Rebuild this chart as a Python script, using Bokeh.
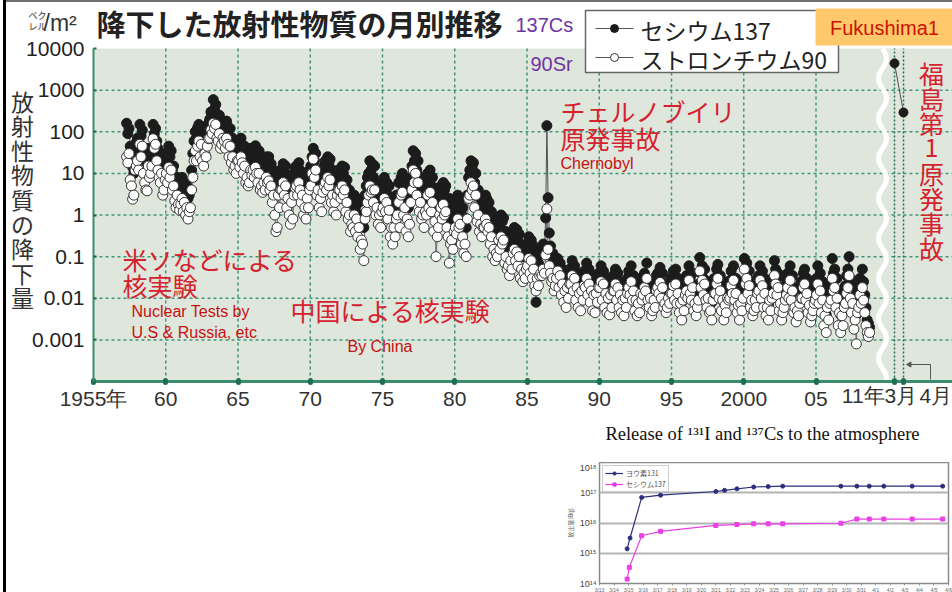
import math
from bokeh.plotting import figure
from bokeh.models import (FixedTicker, Label, Legend, LegendItem, Range1d,
                          Div, Spacer, ColumnDataSource, BoxAnnotation)
from bokeh.layouts import row, column
from bokeh.embed import file_html
from bokeh.resources import INLINE

# ---------------- data (Bq/m2, monthly, from April 1957) ----------------
START_YEAR, START_MONTH = 1957, 4

cs_1957_1966 = [
    160, 90, 120, 45, 30, 14, 10, 40, 55,
    70, 45, 150, 80, 110, 30, 20, 11, 8, 40, 25, 35,
    40, 150, 90, 120, 60, 40, 25, 15, 30, 8, 12, 20,
    30, 20, 45, 25, 35, 12, 15, 6, 4, 8, 5, 3.8,
    5, 8, 4, 6, 3, 5, 2.5, 3, 4, 12, 30, 60,
    100, 70, 125, 150, 90, 130, 60, 45, 90, 70, 120, 160,
    200, 300, 250, 590, 350, 450, 200, 150, 250, 100, 130, 180,
    150, 100, 180, 130, 80, 120, 50, 70, 35, 45, 30, 60,
    60, 40, 70, 50, 30, 45, 20, 25, 15, 20, 40, 30,
    40, 25, 46, 30, 20, 35, 12, 15, 11, 20, 14, 25,
]
sr_1957_1966 = [
    25, 18, 30, 7, 5, 2.4, 3, 12, 15,
    20, 12, 50, 25, 45, 10, 6, 4, 3.8, 15, 8, 10,
    15, 68, 40, 50, 20, 12, 8, 6, 10, 3, 4, 7,
    10, 6, 14, 8, 12, 4, 5, 2.2, 1.5, 3, 1.8, 1.3,
    1.8, 2.5, 1.2, 2, 1, 1.5, 0.8, 1.2, 1.5, 4, 8, 20,
    35, 20, 45, 60, 25, 50, 20, 15, 30, 25, 45, 68,
    70, 110, 90, 160, 120, 150, 70, 60, 90, 40, 50, 70,
    60, 40, 70, 50, 25, 45, 18, 25, 12, 15, 10, 20,
    20, 14, 25, 18, 10, 15, 6, 8, 5, 6, 12, 9,
    12, 8, 14, 10, 6, 10, 4, 5, 3.5, 6, 4, 8,
]
cs_1967_1976 = [
    20, 25, 15, 17, 8, 12, 5.5, 6, 4, 10, 8, 12,
    12, 17, 10, 15, 6, 9, 5, 4, 7, 3, 10, 14,
    15, 10, 18, 12, 7, 10, 4, 6, 3.5, 8, 6, 12,
    15, 25, 40, 20, 30, 10, 12, 6, 8, 5, 12, 15,
    20, 15, 25, 18, 22, 8, 12, 5, 7, 4, 10, 12,
    12, 8, 15, 10, 14, 5, 7, 3, 4, 2, 3, 2.5,
    3, 1.5, 2.5, 1, 2, 0.6, 1, 0.7, 0.5, 3, 5, 8,
    10, 20, 12, 17, 8, 15, 4, 6, 3, 4, 2.5, 5,
    5, 8, 4, 6, 3, 5, 1.5, 2, 1, 2, 1.2, 3,
    3, 6, 2, 8, 10, 4, 6, 2, 3, 1.5, 3, 8,
]
sr_1967_1976 = [
    6, 6.6, 4, 5, 2, 3, 1, 0.4, 0.5, 3, 1.5, 4,
    4, 6, 3, 5, 1.5, 2.5, 1, 0.6, 2, 0.8, 3, 4.5,
    5, 3, 6, 4, 2, 3, 1, 1.5, 0.8, 2.5, 1.5, 4,
    5, 10, 22, 8, 12, 3, 4, 1.5, 2.5, 1.2, 3.5, 5,
    6, 4, 8, 5, 7, 2, 3, 1.2, 2, 1, 3, 4,
    4, 2.5, 5, 3, 4, 1.2, 2, 0.8, 1, 0.4, 0.6, 0.5,
    1, 0.4, 0.8, 0.3, 0.5, 0.15, 0.25, 0.2, 0.08, 0.8, 1.2, 2,
    3, 5, 3.5, 4, 2, 4, 1, 1.5, 0.6, 1, 0.5, 1.2,
    1.5, 2.5, 1.2, 2, 0.8, 1.3, 0.3, 0.5, 0.2, 0.5, 0.3, 0.8,
    1, 2, 0.5, 3, 3.5, 1, 1.5, 0.4, 0.8, 0.3, 0.6, 2,
]
cs_1977_1986 = [
    15, 35, 20, 30, 12, 20, 5, 8, 3, 4, 2.5, 5,
    4, 10, 6, 12, 5, 8, 2, 3, 1.2, 1.5, 2, 4,
    5, 3, 6, 4, 5, 2, 1.5, 2.5, 0.8, 1, 0.7, 1.5,
    2, 1.5, 3, 2, 2.5, 1, 1.5, 0.6, 0.8, 0.5, 3, 8,
    12, 20, 15, 18, 6, 10, 3, 4, 1.5, 2.5, 1.2, 2,
    2, 3, 2.5, 1.5, 2, 0.8, 1.2, 0.4, 0.6, 0.3, 0.5, 0.35,
    0.9, 0.6, 1, 0.7, 0.85, 0.3, 0.4, 0.2, 0.25, 0.15, 0.3, 0.2,
    0.4, 0.5, 0.3, 0.45, 0.25, 0.35, 0.12, 0.18, 0.1, 0.15, 0.12, 0.2,
    0.2, 0.3, 0.15, 0.25, 0.12, 0.18, 0.06, 0.008, 0.1, 0.07, 0.12, 0.15,
    0.12, 0.2, 0.15, 0.85, 140, 2.6, 0.37, 0.18, 0.1, 0.12, 0.07, 0.09,
]
sr_1977_1986 = [
    4, 12, 6, 10, 3, 6, 1.2, 2, 0.8, 1, 0.5, 1.2,
    1, 3, 1.5, 3.5, 1.2, 2, 0.4, 0.7, 0.1, 0.3, 0.5, 1,
    1.5, 0.8, 1.8, 1, 1.2, 0.5, 0.3, 0.07, 0.2, 0.25, 0.15, 0.4,
    0.5, 0.35, 0.8, 0.5, 0.6, 0.2, 0.3, 0.12, 0.2, 0.1, 0.8, 2.5,
    3, 6, 4, 5, 1.5, 3, 0.7, 1, 0.4, 0.6, 0.3, 0.5,
    0.5, 0.8, 0.6, 0.4, 0.5, 0.2, 0.3, 0.1, 0.15, 0.08, 0.12, 0.1,
    0.25, 0.15, 0.3, 0.2, 0.25, 0.07, 0.1, 0.05, 0.06, 0.035, 0.08, 0.05,
    0.12, 0.15, 0.08, 0.13, 0.06, 0.1, 0.03, 0.05, 0.025, 0.04, 0.03, 0.05,
    0.06, 0.09, 0.04, 0.08, 0.03, 0.05, 0.02, 0.015, 0.03, 0.02, 0.035, 0.04,
    0.035, 0.05, 0.04, 0.11, 1.4, 0.15, 0.06, 0.04, 0.025, 0.03, 0.015, 0.02,
]
cs_1987_1997 = [
    0.06, 0.09, 0.04, 0.07, 0.03, 0.05, 0.02, 0.035, 0.015, 0.04, 0.025, 0.05,
    0.05, 0.08, 0.03, 0.06, 0.02, 0.04, 0.015, 0.03, 0.012, 0.035, 0.02, 0.045,
    0.04, 0.07, 0.025, 0.05, 0.018, 0.035, 0.012, 0.025, 0.01, 0.03, 0.015, 0.04,
    0.035, 0.06, 0.02, 0.045, 0.015, 0.03, 0.01, 0.022, 0.009, 0.028, 0.014, 0.035,
    0.03, 0.05, 0.02, 0.04, 0.015, 0.025, 0.01, 0.02, 0.008, 0.025, 0.012, 0.03,
    0.045, 0.025, 0.06, 0.02, 0.035, 0.012, 0.02, 0.009, 0.015, 0.01, 0.03, 0.02,
    0.025, 0.04, 0.03, 0.07, 0.02, 0.015, 0.025, 0.008, 0.012, 0.02, 0.015, 0.035,
    0.04, 0.03, 0.055, 0.025, 0.04, 0.014, 0.018, 0.01, 0.013, 0.022, 0.016, 0.03,
    0.03, 0.045, 0.02, 0.05, 0.018, 0.03, 0.01, 0.016, 0.008, 0.02, 0.012, 0.028,
    0.035, 0.025, 0.06, 0.03, 0.02, 0.04, 0.012, 0.018, 0.009, 0.014, 0.022, 0.095,
    0.04, 0.06, 0.03, 0.05, 0.02, 0.015, 0.025, 0.01, 0.012, 0.008, 0.02, 0.03,
]
sr_1987_1997 = [
    0.03, 0.045, 0.018, 0.035, 0.012, 0.022, 0.008, 0.015, 0.006, 0.018, 0.01, 0.022,
    0.022, 0.035, 0.015, 0.03, 0.009, 0.018, 0.006, 0.013, 0.005, 0.015, 0.009, 0.02,
    0.018, 0.03, 0.012, 0.022, 0.008, 0.015, 0.005, 0.012, 0.0045, 0.013, 0.008, 0.018,
    0.018, 0.025, 0.009, 0.022, 0.006, 0.013, 0.0045, 0.01, 0.004, 0.012, 0.006, 0.015,
    0.015, 0.022, 0.009, 0.018, 0.006, 0.012, 0.0045, 0.009, 0.0038, 0.01, 0.006, 0.013,
    0.018, 0.012, 0.025, 0.009, 0.015, 0.005, 0.009, 0.0038, 0.0075, 0.0045, 0.013, 0.009,
    0.012, 0.018, 0.015, 0.03, 0.009, 0.006, 0.01, 0.0038, 0.005, 0.009, 0.006, 0.015,
    0.018, 0.013, 0.024, 0.01, 0.018, 0.006, 0.0075, 0.0045, 0.006, 0.01, 0.0075, 0.013,
    0.013, 0.02, 0.009, 0.022, 0.0075, 0.013, 0.0045, 0.0075, 0.003, 0.009, 0.005, 0.012,
    0.015, 0.01, 0.027, 0.013, 0.009, 0.018, 0.005, 0.0075, 0.0038, 0.006, 0.009, 0.045,
    0.018, 0.027, 0.012, 0.022, 0.009, 0.006, 0.01, 0.0045, 0.005, 0.003, 0.009, 0.013,
]
cs_1998_2008 = [
    0.03, 0.05, 0.065, 0.025, 0.035, 0.012, 0.02, 0.008, 0.015, 0.01, 0.025, 0.02,
    0.025, 0.045, 0.03, 0.06, 0.02, 0.03, 0.01, 0.015, 0.007, 0.018, 0.012, 0.025,
    0.09, 0.05, 0.07, 0.03, 0.045, 0.015, 0.02, 0.009, 0.012, 0.02, 0.015, 0.03,
    0.035, 0.06, 0.025, 0.045, 0.015, 0.03, 0.009, 0.014, 0.007, 0.02, 0.012, 0.025,
    0.03, 0.08, 0.05, 0.03, 0.04, 0.012, 0.018, 0.008, 0.01, 0.015, 0.02, 0.028,
    0.04, 0.025, 0.06, 0.02, 0.035, 0.01, 0.015, 0.007, 0.012, 0.009, 0.018, 0.025,
    0.025, 0.04, 0.05, 0.02, 0.03, 0.011, 0.016, 0.007, 0.009, 0.013, 0.017, 0.022,
    0.03, 0.06, 0.02, 0.04, 0.012, 0.025, 0.006, 0.01, 0.004, 0.015, 0.008, 0.02,
    0.025, 0.09, 0.04, 0.05, 0.015, 0.03, 0.006, 0.012, 0.004, 0.009, 0.006, 0.018,
    0.02, 0.035, 0.05, 0.1, 0.03, 0.012, 0.02, 0.005, 0.008, 0.004, 0.012, 0.015,
    0.03, 0.02, 0.05, 0.025, 0.012, 0.006, 0.003, 0.0025, 0.002,
]
sr_1998_2008 = [
    0.013, 0.022, 0.03, 0.01, 0.015, 0.005, 0.009, 0.003, 0.0068, 0.0045, 0.01, 0.009,
    0.01, 0.02, 0.013, 0.027, 0.009, 0.013, 0.0045, 0.0068, 0.003, 0.0075, 0.005, 0.01,
    0.05, 0.022, 0.03, 0.013, 0.02, 0.006, 0.009, 0.0038, 0.005, 0.009, 0.006, 0.013,
    0.015, 0.027, 0.01, 0.02, 0.006, 0.013, 0.0038, 0.006, 0.003, 0.009, 0.005, 0.01,
    0.013, 0.035, 0.022, 0.012, 0.018, 0.005, 0.0075, 0.003, 0.0045, 0.006, 0.009, 0.012,
    0.018, 0.01, 0.027, 0.009, 0.015, 0.0045, 0.006, 0.0027, 0.005, 0.0038, 0.0075, 0.01,
    0.01, 0.018, 0.022, 0.009, 0.013, 0.0045, 0.0068, 0.0027, 0.0038, 0.005, 0.0075, 0.009,
    0.012, 0.022, 0.0075, 0.015, 0.0045, 0.009, 0.0022, 0.0038, 0.0015, 0.006, 0.003, 0.0075,
    0.009, 0.03, 0.015, 0.018, 0.006, 0.01, 0.0022, 0.0045, 0.0015, 0.0038, 0.0022, 0.006,
    0.0075, 0.013, 0.018, 0.035, 0.01, 0.0045, 0.0075, 0.0018, 0.003, 0.0008, 0.0045, 0.006,
    0.012, 0.0075, 0.018, 0.009, 0.0045, 0.0022, 0.0015, 0.0012, 0.0015,
]

# Fukushima (after the axis break): March and April 2011, cesium-137
fuk_months = [3, 4]
fuk_cs = [4400, 290]

# axis ticks
x_tick_years = [1955, 1960, 1965, 1970, 1975, 1980, 1985, 1990, 1995, 2000, 2005]
x_tick_labels = ["1955年", "60", "65", "70", "75", "80", "85", "90", "95", "2000", "05"]
y_ticks = [0.001, 0.01, 0.1, 1, 10, 100, 1000, 10000]
y_tick_labels = ["0.001", "0.01", "0.1", "1", "10", "100", "1000", "10000"]

# legend entries of the main chart
legend_labels = ["セシウム137", "ストロンチウム90"]

# inset: release to the atmosphere (Bq), day of March (April = 32+)
inset_days_i131 = [14.9, 15.1, 15.9, 17.2, 21.0, 21.6, 22.45, 23.6, 24.6, 25.6,
                   29.6, 30.7, 31.55, 32.55, 34.5, 36.6]
inset_i131 = [1.4e15, 3.2e15, 7.0e16, 8.3e16, 1.1e17, 1.2e17, 1.35e17, 1.55e17, 1.6e17, 1.65e17,
              1.65e17, 1.65e17, 1.65e17, 1.65e17, 1.65e17, 1.65e17]
inset_days_cs137 = [14.9, 15.05, 15.9, 17.2, 21.0, 22.45, 23.6, 24.6, 25.6,
                    29.6, 30.7, 31.55, 32.55, 34.5, 36.6]
inset_cs137 = [1.4e14, 3.4e14, 3.8e15, 5.3e15, 8.3e15, 8.9e15, 9.4e15, 9.4e15, 9.4e15,
               9.8e15, 1.35e16, 1.35e16, 1.35e16, 1.35e16, 1.35e16]
inset_x_days = list(range(13, 38))
inset_x_labels = ["3/%d" % d for d in range(13, 32)] + ["4/%d" % d for d in range(1, 7)]

# ---------------- geometry helpers (window pixels -> data) ----------------
X0_PX, PX_PER_YEAR = 93.0, 14.45
Y0_PX, PX_PER_DEC = 48.0, 41.625
FIG_LEFT, FIG_TOP, FIG_W, FIG_H = 6, 2, 946, 410


def fx(px):
    return 1955 + (px - X0_PX) / PX_PER_YEAR


def fy(py):
    return 10 ** (4 - (py - Y0_PX) / PX_PER_DEC)


X_END = fx(FIG_LEFT + FIG_W)
BREAK_X = fx(894)      # position of "3月" after the axis break
MONTH_W = 9 / PX_PER_YEAR

JP = "Noto Sans CJK JP"
NUM = "Liberation Sans"
RED = "#d6222e"
RED_EN = "#c81010"
PURPLE = "#7033a3"
TEAL = "#3a8c6d"
GRID = "#3f957a"

# ---------------- main figure (frame = whole canvas, axes at fixed locations) ----------------
p = figure(width=FIG_W, height=FIG_H, frame_width=FIG_W, frame_height=FIG_H,
           x_range=Range1d(fx(FIG_LEFT), X_END),
           y_range=Range1d(fy(FIG_TOP + FIG_H), fy(FIG_TOP)), y_axis_type="log",
           min_border_left=0, min_border_right=0, min_border_top=0, min_border_bottom=0,
           background_fill_color="white", border_fill_color="white",
           outline_line_color=None, output_backend="svg", toolbar_location=None)
p.grid.visible = False

p.add_layout(BoxAnnotation(left=1955, right=X_END, bottom=1e-4, top=1e4, fill_color="#dfe7dc",
                           fill_alpha=1.0, line_color=None, level="underlay"))

fuk_x = [BREAK_X + (m - 3) * MONTH_W for m in fuk_months]

# grid lines limited to the plotting area
gx = x_tick_years[1:]
p.segment(x0=gx, y0=[1e-4] * len(gx), x1=gx, y1=[1e4] * len(gx),
          line_color=GRID, line_dash="3 3", line_width=1.5)
gy = y_ticks[:-1]
p.segment(x0=[1955] * len(gy), y0=gy, x1=[X_END] * len(gy), y1=gy,
          line_color=GRID, line_dash="3 3", line_width=1.5)
p.segment(x0=fuk_x, y0=[1e-4] * 2, x1=fuk_x, y1=[1e4] * 2,
          line_color="#1f6e52", line_dash="2 2", line_width=1.5)

xt = x_tick_years + fuk_x
ov = dict(zip(x_tick_years, x_tick_labels))
for v in fuk_x:
    ov[v] = ""
p.xaxis.fixed_location = 1e-4
p.xaxis.bounds = (1955, X_END)
p.xaxis.ticker = FixedTicker(ticks=xt)
p.xaxis.major_label_overrides = ov
p.xaxis.axis_line_color = TEAL
p.xaxis.axis_line_width = 3
p.xaxis.major_tick_line_color = "#1f6e52"
p.xaxis.major_tick_line_width = 5
p.xaxis.major_tick_line_cap = "round"
p.xaxis.major_tick_in = 1
p.xaxis.major_tick_out = 1
p.xaxis.minor_tick_line_color = None
p.xaxis.major_label_text_font = NUM
p.xaxis.major_label_text_font_size = "21px"
p.xaxis.major_label_text_color = "#333333"
p.xaxis.major_label_standoff = 4

p.yaxis.fixed_location = 1955
p.yaxis.bounds = (1e-4, 1e4)
p.yaxis.ticker = FixedTicker(ticks=y_ticks)
p.yaxis.major_label_overrides = dict(zip(y_ticks, y_tick_labels))
p.yaxis.axis_line_color = TEAL
p.yaxis.axis_line_width = 2
p.yaxis.major_tick_line_color = "#1f6e52"
p.yaxis.major_tick_line_width = 2
p.yaxis.major_tick_in = 3
p.yaxis.major_tick_out = 0
p.yaxis.minor_tick_line_color = None
p.yaxis.major_label_text_font = NUM
p.yaxis.major_label_text_font_size = "21px"
p.yaxis.major_label_text_color = "#222222"
p.yaxis.major_label_standoff = 9

# series
cs_all = cs_1957_1966 + cs_1967_1976 + cs_1977_1986 + cs_1987_1997 + cs_1998_2008
sr_all = sr_1957_1966 + sr_1967_1976 + sr_1977_1986 + sr_1987_1997 + sr_1998_2008
n = min(len(cs_all), len(sr_all))
months_x = [START_YEAR + (START_MONTH - 1 + i + 0.5) / 12 for i in range(n)]
src = ColumnDataSource(dict(x=months_x, cs=cs_all[:n], sr=sr_all[:n]))

CS_STYLE = dict(fill_color="#1c1c1c", line_color="#1c1c1c")
SR_STYLE = dict(fill_color="white", line_color="#333333", line_width=1)

p.line("x", "cs", source=src, line_color="#505050", line_width=1)
p.line("x", "sr", source=src, line_color="#6a6a6a", line_width=1)
p.scatter("x", "cs", source=src, size=10, **CS_STYLE)
p.scatter("x", "sr", source=src, size=10, **SR_STYLE)

fsrc = ColumnDataSource(dict(x=fuk_x, y=fuk_cs))
p.line("x", "y", source=fsrc, line_color="#505050", line_width=1)
p.scatter("x", "y", source=fsrc, size=9, **CS_STYLE)

# axis break (white wavy line)
tt = list(range(0, 336, 2))
p.line([fx(882 + 4 * math.sin(2 * math.pi * t / 40)) for t in tt], [fy(Y0_PX + t) for t in tt],
       line_color="white", line_width=5)

# small pointer to "4月"
p.line([fx(930), fx(930), fx(909)], [fy(379), fy(364), fy(364)], line_color="#555555", line_width=1)
p.scatter([fx(909)], [fy(364)], marker="triangle", angle=math.pi / 2, size=5,
          fill_color="#555555", line_color="#555555")

# legend box (drawn as a key over the chart)
p.quad(left=[fx(585)], right=[fx(838)], top=[fy(10)], bottom=[fy(72)],
       fill_color="white", line_color="#666666", line_width=1.5)
for k, (yy, style) in enumerate(((28, CS_STYLE), (57, SR_STYLE))):
    p.line([fx(595), fx(633)], [fy(yy), fy(yy)], line_color="#555555", line_width=1.2)
    p.scatter([fx(614)], [fy(yy)], size=8, **style)

# "Fukushima1" tag
p.quad(left=[fx(815)], right=[X_END], top=[fy(8)], bottom=[fy(45)],
       fill_color="#ffc96b", line_color=None)


def lab(fig, text, px, py, size, color, font=JP, align="left", style="normal", **kw):
    fig.add_layout(Label(x=fx(px), y=fy(py), text=text, text_font_size=size, text_color=color,
                         text_font=font, text_align=align, text_baseline="middle",
                         text_font_style=style, **kw))


lab(p, legend_labels[0], 640, 29, "23px", "#222222")
lab(p, legend_labels[1], 640, 58, "23px", "#222222")
lab(p, "Fukushima1", 884, 27, "20px", "#cc1100", font="Liberation Sans", align="center")

# title and unit
lab(p, "ベク", 37, 15, "9px", "#333333", align="center")
lab(p, "レル", 37, 26, "9px", "#333333", align="center")
lab(p, "/m²", 43, 22, "23px", "#333333", font="Liberation Sans")
lab(p, "降下した放射性物質の月別推移", 96, 22, "29px", "#222222", style="bold")
lab(p, "137Cs", 515, 24, "20px", PURPLE, font="Liberation Sans")
lab(p, "90Sr", 530, 63, "20px", PURPLE, font="Liberation Sans")

# y axis title (vertical)
for i, ch in enumerate("放射性物質の降下量"):
    lab(p, ch, 22, 100 + 24.6 * i, "23px", "#333333", align="center")

# annotations
lab(p, "米ソなどによる", 122, 258, "25px", RED)
lab(p, "核実験", 122, 284, "25px", RED)
lab(p, "Nuclear Tests by", 131, 311, "16px", RED_EN, font="Liberation Sans")
lab(p, "U.S & Russia, etc", 131, 332, "16px", RED_EN, font="Liberation Sans")
lab(p, "中国による核実験", 290, 309, "25px", RED)
lab(p, "By China", 347, 346, "16px", RED_EN, font="Liberation Sans")
lab(p, "チェルノブイリ", 560, 110, "25px", RED)
lab(p, "原発事故", 560, 137, "25px", RED)
lab(p, "Chernobyl", 560, 163, "16px", RED_EN, font="Liberation Sans")
for i, ch in enumerate("福島第1原発事故"):
    lab(p, ch, 931, 72 + 25 * i, "25px", RED, align="center")

# labels of the part after the break
lab(p, "11年3月", 879, 395, "21px", "#333333", font=NUM, align="center")
lab(p, "4月", 919, 395, "21px", "#333333", font=NUM)

# ---------------- inset title (own small canvas, frame aligned with the inset's frame) ----------------
INSET_FRAME_LEFT = 599
tq = figure(width=397, height=50, frame_width=349, frame_height=50,
            x_range=Range1d(0, 349), y_range=Range1d(0, 50),
            x_axis_location=None, y_axis_location=None,
            min_border_left=44, min_border_right=4, min_border_top=0, min_border_bottom=0,
            background_fill_color="white", border_fill_color="white", outline_line_color=None,
            output_backend="svg", toolbar_location=None)
tq.grid.visible = False
tq.add_layout(Label(x=762 - INSET_FRAME_LEFT, y=50 - (433 - 412),
                    text="Release of ¹³¹I and ¹³⁷Cs to the atmosphere",
                    text_font="Liberation Serif", text_font_size="18.5px", text_color="#111111",
                    text_align="center", text_baseline="middle"))

# ---------------- inset figure ----------------
q = figure(width=397, height=130, frame_width=349, frame_height=121,
           x_range=Range1d(13, 37), y_range=Range1d(1e14, 1e18), y_axis_type="log",
           min_border_left=44, min_border_right=4, min_border_top=0, min_border_bottom=9,
           background_fill_color="white", border_fill_color="white",
           outline_line_color="#8a8a8a", outline_line_width=1.5,
           output_backend="svg", toolbar_location=None)
q.xaxis.ticker = FixedTicker(ticks=inset_x_days)
q.xaxis.major_label_overrides = dict(zip(inset_x_days, inset_x_labels))
q.xaxis.major_label_text_font_size = "5px"
q.xaxis.major_label_text_color = "#666666"
q.xaxis.major_label_standoff = 1
q.xaxis.major_tick_out = 2
q.xaxis.major_tick_in = 0
q.xaxis.axis_line_color = None
q.xaxis.major_tick_line_color = "#999999"
q.xaxis.minor_tick_line_color = None
y_inset_ticks = [10 ** 14, 10 ** 15, 10 ** 16, 10 ** 17, 10 ** 18]
q.yaxis.ticker = FixedTicker(ticks=y_inset_ticks)
q.yaxis.major_label_overrides = dict(zip(y_inset_ticks, ["10¹⁴", "10¹⁵", "10¹⁶", "10¹⁷", "10¹⁸"]))
q.yaxis.major_label_text_font_size = "9px"
q.yaxis.major_label_text_color = "#444444"
q.yaxis.major_label_standoff = 3
q.yaxis.major_tick_out = 0
q.yaxis.major_tick_in = 0
q.yaxis.axis_line_color = None
q.yaxis.minor_tick_line_color = None
q.yaxis.axis_label = "放出量(Bq)"
q.yaxis.axis_label_text_font = JP
q.yaxis.axis_label_text_font_size = "6px"
q.yaxis.axis_label_text_font_style = "normal"
q.yaxis.axis_label_text_color = "#666666"
q.yaxis.axis_label_standoff = 2
q.xgrid.grid_line_color = None
q.ygrid.ticker = FixedTicker(ticks=[10 ** 15, 10 ** 16, 10 ** 17])
q.ygrid.grid_line_color = "#b4b4b4"
q.ygrid.grid_line_width = 2

i_line = q.line(inset_days_i131, inset_i131, line_color="#2c2f7c", line_width=1.2)
i_pts = q.scatter(inset_days_i131, inset_i131, size=4, fill_color="#2c2f7c", line_color="#2c2f7c")
c_line = q.line(inset_days_cs137, inset_cs137, line_color="#ea40e6", line_width=1.2)
c_pts = q.scatter(inset_days_cs137, inset_cs137, marker="square", size=4, fill_color="#ea40e6",
                  line_color="#ea40e6")
ql = Legend(items=[LegendItem(label="ヨウ素131", renderers=[i_line, i_pts]),
                   LegendItem(label="セシウム137", renderers=[c_line, c_pts])],
            location="top_left", label_text_font=JP, label_text_font_size="7px",
            label_text_color="#555555", glyph_width=18, glyph_height=8, label_height=8,
            label_standoff=3, padding=2, spacing=1, margin=3,
            border_line_color="#999999", border_line_width=1, background_fill_alpha=1.0)
q.add_layout(ql, "center")

# ---------------- page layout ----------------
left_gap = Spacer(width=3, height=592, margin=0)
left_bar = Div(width=3, height=592, margin=0, styles={"background-color": "#000000"})
top_bar = Div(width=946, height=2, margin=0, styles={"background-color": "#6e6e6e"})
inset_row = row(Spacer(width=549, height=180, margin=0), column(tq, q, spacing=0), spacing=0)
main_col = column(top_bar, p, inset_row, spacing=0)
page = row(left_gap, left_bar, main_col, spacing=0)

open("out.html", "w").write(file_html(page, INLINE))
